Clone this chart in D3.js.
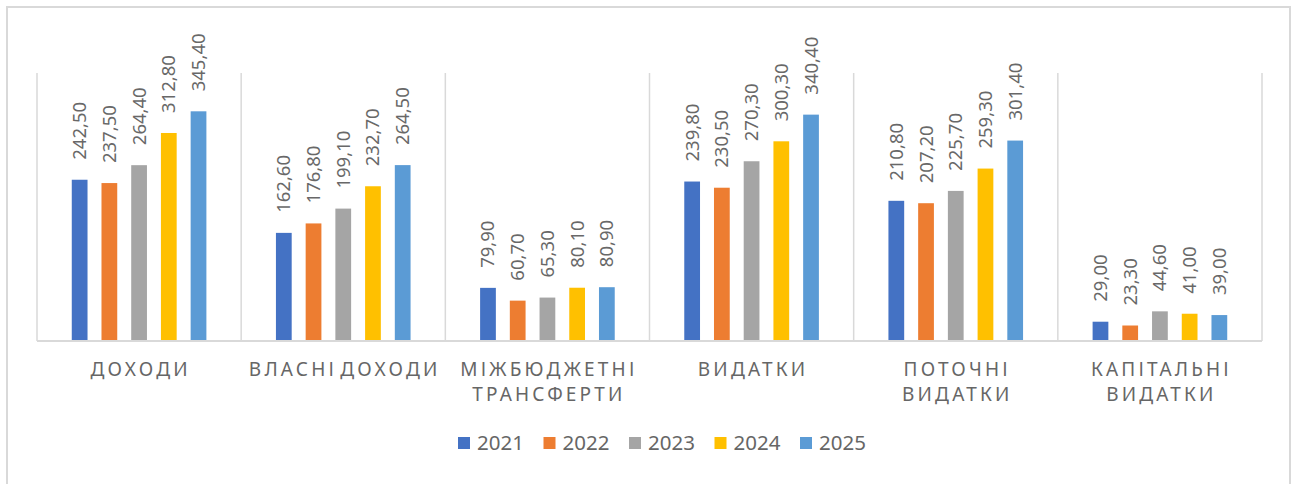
<html>
<head>
  <meta charset="utf-8">
  <style>
    body { margin: 0; background: #fff; }
    svg { font-family: "Noto Sans", "Open Sans", sans-serif; }
    .value-label { fill: #686868; font-size: 18.5px; }
    .cat-label { fill: #666666; font-size: 19px; letter-spacing: 3.2px; word-spacing: -5px; }
    .legend-label { fill: #666666; font-size: 20.5px; }
  </style>
</head>
<body>
  <script src="https://cdn.jsdelivr.net/npm/d3@7"></script>
  <script>
    // values
    const categories = [
      ["ДОХОДИ"],
      ["ВЛАСНІ ДОХОДИ"],
      ["МІЖБЮДЖЕТНІ", "ТРАНСФЕРТИ"],
      ["ВИДАТКИ"],
      ["ПОТОЧНІ", "ВИДАТКИ"],
      ["КАПІТАЛЬНІ", "ВИДАТКИ"]
    ];
    const years = ["2021", "2022", "2023", "2024", "2025"];
    const values2021 = [242.5, 162.6, 79.9, 239.8, 210.8, 29.0];
    const values2022 = [237.5, 176.8, 60.7, 230.5, 207.2, 23.3];
    const values2023 = [264.4, 199.1, 65.3, 270.3, 225.7, 44.6];
    const values2024 = [312.8, 232.7, 80.1, 300.3, 259.3, 41.0];
    const values2025 = [345.4, 264.5, 80.9, 340.4, 301.4, 39.0];
    const colors = ["#4472C4", "#ED7D31", "#A5A5A5", "#FFC000", "#5B9BD5"];

    const series = [values2021, values2022, values2023, values2024, values2025];

    var width = 1294;
    var height = 484;
    var plotLeft = 37, plotRight = 1262, plotTop = 75, baseY = 341;

    var svg = d3.select("body").append("svg")
      .attr("width", width)
      .attr("height", height);

    // outer chart border
    svg.append("rect")
      .attr("x", 7).attr("y", 7)
      .attr("width", 1283).attr("height", 500)
      .attr("fill", "none")
      .attr("stroke", "#d9d9d9")
      .attr("stroke-width", 2);

    var catIdx = categories.map((d, i) => i);
    var x0 = d3.scaleBand().domain(catIdx).range([plotLeft, plotRight]).padding(0);
    var x1 = d3.scaleBand().domain(years).range([0, x0.bandwidth()])
      .paddingInner(0.47).paddingOuter(1.17);
    var y = d3.scaleLinear().domain([0, 400]).range([baseY, plotTop]);

    // category separators
    var seps = catIdx.map(i => x0(i)).concat([plotRight]);
    svg.append("g").selectAll("line")
      .data(seps)
      .join("line")
      .attr("x1", d => d).attr("x2", d => d)
      .attr("y1", 73).attr("y2", baseY)
      .attr("stroke", "#d9d9d9")
      .attr("stroke-width", 1.5);

    // bars
    var groups = svg.append("g").selectAll("g")
      .data(catIdx)
      .join("g")
      .attr("transform", i => `translate(${x0(i)},0)`);

    var cells = groups.selectAll("g")
      .data(i => years.map((yr, s) => ({ yr: yr, s: s, v: series[s][i] })))
      .join("g");

    cells.append("rect")
      .attr("x", d => x1(d.yr))
      .attr("y", d => y(d.v))
      .attr("width", x1.bandwidth())
      .attr("height", d => baseY - y(d.v))
      .attr("fill", d => colors[d.s]);

    cells.append("text")
      .attr("class", "value-label")
      .attr("transform", d => `translate(${x1(d.yr) + x1.bandwidth() / 2},${y(d.v) - 20}) rotate(-90)`)
      .attr("dy", "0.35em")
      .attr("text-anchor", "start")
      .text(d => d3.format(".2f")(d.v).replace(".", ","));

    // baseline
    svg.append("line")
      .attr("x1", plotLeft).attr("x2", plotRight)
      .attr("y1", baseY).attr("y2", baseY)
      .attr("stroke", "#d9d9d9")
      .attr("stroke-width", 2);

    // category labels
    svg.append("g").selectAll("text")
      .data(catIdx)
      .join("text")
      .attr("class", "cat-label")
      .attr("text-anchor", "middle")
      .attr("x", i => x0(i) + x0.bandwidth() / 2 + 1.5)
      .attr("y", 376)
      .selectAll("tspan")
      .data(i => categories[i])
      .join("tspan")
      .attr("x", function () { return d3.select(this.parentNode).attr("x"); })
      .attr("dy", (d, k) => k === 0 ? 0 : 25)
      .text(d => d);

    // legend
    var legend = svg.append("g").selectAll("g")
      .data(years)
      .join("g")
      .attr("transform", (d, i) => `translate(${458 + i * 85.5},443)`);
    legend.append("rect")
      .attr("x", 0).attr("y", -6)
      .attr("width", 12).attr("height", 12)
      .attr("fill", (d, i) => colors[i]);
    legend.append("text")
      .attr("class", "legend-label")
      .attr("x", 19).attr("dy", "0.36em")
      .text(d => d);
  </script>
</body>
</html>
